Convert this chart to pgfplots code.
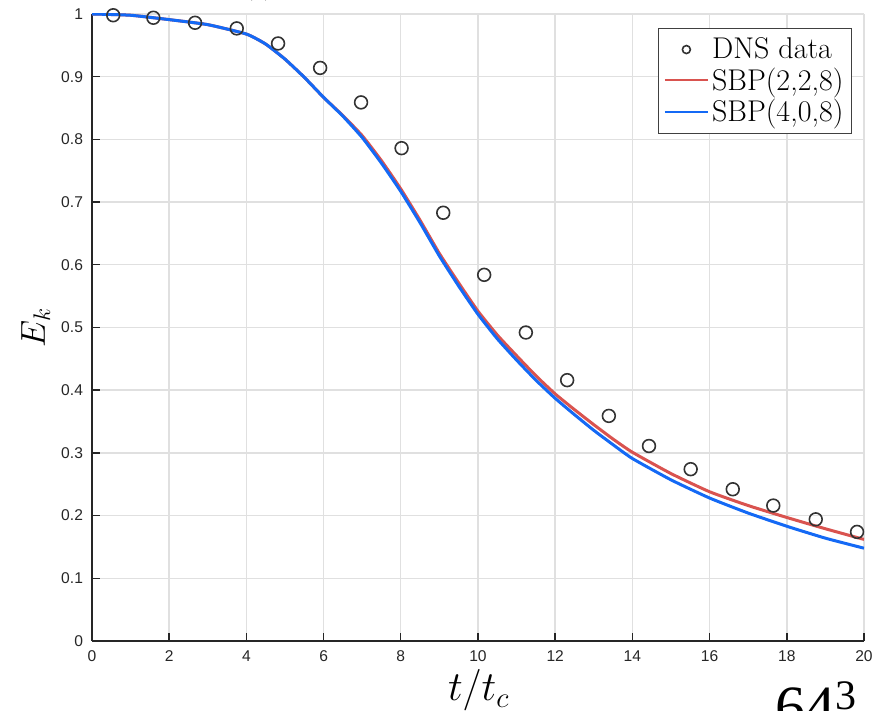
\documentclass[border=0pt]{standalone}
\usepackage{pgfplots}
\pgfplotsset{compat=1.18}
\usepackage{fontspec}
\setsansfont{Liberation Sans}
\newfontfamily\tmr{Liberation Serif}
\definecolor{sbpred}{RGB}{217,83,79}
\definecolor{sbpblue}{RGB}{20,105,245}
\definecolor{tickgray}{gray}{0.15}
\begin{document}
\begin{tikzpicture}
\path[use as bounding box] (-46pt,-35pt) rectangle (393.5pt,320.5pt);
\begin{axis}[
  at={(0,0)}, anchor=south west, scale only axis,
  width=386pt, height=313.5pt,
  xmin=0, xmax=20, ymin=0, ymax=1,
  axis lines=left, axis line style={-, tickgray, line width=0.7pt},
  xtick={0,2,4,6,8,10,12,14,16,18,20},
  ytick={0,0.1,0.2,0.3,0.4,0.5,0.6,0.7,0.8,0.9,1},
  grid=major, major grid style={black!12, line width=0.7pt},
  tick align=inside, major tick length=4pt,
  tick style={tickgray, line width=0.7pt},
  /pgf/number format/assume math mode=true,
  ticklabel style={font=\sffamily\fontsize{7.8}{9}\selectfont, text=tickgray},
  yticklabel style={/pgf/number format/fixed, /pgf/number format/precision=1, xshift=-1pt},
  xticklabel style={yshift=-1.5pt},
  xlabel={$t/t_c$}, ylabel={$E_k$},
  xlabel style={font=\fontsize{21}{24}\selectfont, at={(axis description cs:0.501,0)}, anchor=base, yshift=-30pt},
  ylabel style={font=\fontsize{18}{22}\selectfont, at={(axis description cs:-0.0609,0.5)}, anchor=base, rotate=0},
  legend cell align=left,
  legend style={at={(axis description cs:0.9845,0.9777)}, anchor=north east,
    draw=black!75, line width=0.6pt, fill=white,
    font=\fontsize{15}{16}\selectfont,
    inner xsep=2.5pt, inner ysep=3.5pt, row sep=1pt,
    nodes={inner xsep=1.5pt, inner ysep=1pt}},
  legend image code/.code={\draw[#1, line width=1.2pt] (0pt,0pt) -- (21.5pt,0pt);},
]
\addplot[only marks, mark=o, mark size=3.2pt, mark options={draw=black!80, line width=0.8pt},
  legend image code/.code={\draw[mark size=2pt, mark options={draw=black!80, line width=0.8pt}] plot[mark=o] coordinates {(10.75pt,0pt)};}]
coordinates {
(0.55,0.998) (1.59,0.994) (2.67,0.986) (3.75,0.977) (4.82,0.953) (5.91,0.914)
(6.97,0.859) (8.02,0.786) (9.10,0.683) (10.16,0.584) (11.24,0.492) (12.31,0.416)
(13.39,0.359) (14.43,0.311) (15.51,0.274) (16.60,0.242) (17.65,0.216) (18.75,0.194) (19.82,0.174)
};
\addlegendentry{DNS data}
\addplot[sbpred, line width=1.5pt, smooth, tension=0.3] coordinates {
(0,1.000) (1,0.998) (2,0.991) (3,0.983) (4,0.968) (4.5,0.952) (5,0.928) (5.5,0.899)
(6,0.867) (6.5,0.838) (7,0.806) (7.5,0.766) (8,0.721) (8.5,0.671) (9,0.618) (9.5,0.571)
(10,0.526) (10.5,0.488) (11,0.455) (11.5,0.423) (12,0.394) (12.5,0.369) (13,0.345)
(13.5,0.322) (14,0.301) (15,0.267) (16,0.238) (17,0.216) (18,0.197) (19,0.179) (20,0.162)
};
\addlegendentry{SBP(2,2,8)}
\addplot[sbpblue, line width=1.5pt, smooth, tension=0.3] coordinates {
(0,1.000) (1,0.998) (2,0.991) (3,0.983) (4,0.968) (4.5,0.952) (5,0.928) (5.5,0.899)
(6,0.867) (6.5,0.837) (7,0.803) (7.5,0.762) (8,0.717) (8.5,0.667) (9,0.614) (9.5,0.566)
(10,0.521) (10.5,0.482) (11,0.448) (11.5,0.416) (12,0.387) (12.5,0.361) (13,0.336)
(13.5,0.313) (14,0.291) (15,0.257) (16,0.228) (17,0.204) (18,0.183) (19,0.164) (20,0.148)
};
\addlegendentry{SBP(4,0,8)}
\end{axis}
\node[anchor=base west, font=\fontsize{11}{13}\selectfont] at (73pt,322.5pt) {(a)};
\node[anchor=base west, font=\tmr\fontsize{30}{36}\selectfont] at (338pt,-43.5pt) {64\textsuperscript{3}};
\end{tikzpicture}
\end{document}
